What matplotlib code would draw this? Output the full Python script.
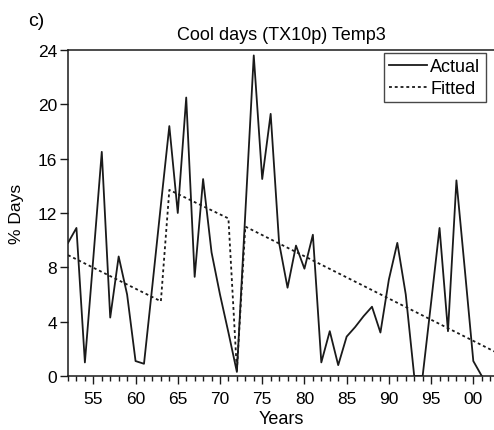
import matplotlib
matplotlib.use("Agg")
import matplotlib.pyplot as plt
import matplotlib.ticker as ticker

# ---------------------------------------------------------------------------
# Data
# ---------------------------------------------------------------------------

years = list(range(1952, 2002))
actual = [
    9.8, 10.9, 1.0, 8.7, 16.5, 4.3, 8.8, 6.0, 1.1, 0.9,      # 1952-61
    6.7, 12.6, 18.4, 12.0, 20.5, 7.3, 14.5, 9.1, 6.0, 3.2,   # 1962-71
    0.3, 12.0, 23.6, 14.5, 19.3, 9.8, 6.5, 9.6, 7.9, 10.4,   # 1972-81
    1.0, 3.3, 0.8, 2.9, 3.6, 4.4, 5.1, 3.2, 7.1, 9.8,        # 1982-91
    6.0, 0.0, 0.0, 5.4, 10.9, 3.3, 14.4, 7.8, 1.1, 0.0,      # 1992-2001
]

# fitted piecewise trend (segment end points)
fit_years = [1952, 1963, 1964, 1971, 1972, 1973, 2003]
fit_vals = [8.9, 5.5, 13.7, 11.6, 0.4, 11.0, 1.65]

y_ticks = [0, 4, 8, 12, 16, 20, 24]
x_major = [1955, 1960, 1965, 1970, 1975, 1980, 1985, 1990, 1995, 2000]

# ---------------------------------------------------------------------------
# Figure
# ---------------------------------------------------------------------------

plt.rcParams["font.family"] = ["Liberation Sans", "DejaVu Sans"]

W, H = 494, 431
fig = plt.figure(figsize=(W / 100, H / 100), dpi=100)
ax = fig.add_axes([68 / W, 1 - 377 / H, (W - 68) / W, (377 - 51) / H])

ax.plot(years, actual, color="#1a1a1a", lw=1.3, label="Actual")
ax.plot(fit_years, fit_vals, color="#1a1a1a", lw=1.3,
        linestyle=(0, (1.6, 1.6)), label="Fitted")

ax.set_xlim(1952, 2002.45)
ax.set_ylim(0, 24)
ax.spines["right"].set_visible(False)
for s in ("left", "bottom", "top"):
    ax.spines[s].set_linewidth(1.1)
    ax.spines[s].set_color("#1a1a1a")

ax.set_yticks(y_ticks)
ax.set_xticks(x_major)
ax.xaxis.set_minor_locator(ticker.MultipleLocator(1))
ax.xaxis.set_major_formatter(ticker.FuncFormatter(lambda v, _: f"{int(v) % 100:02d}"))
ax.tick_params(axis="both", which="major", labelsize=12.5, length=6,
               width=1.0, color="#1a1a1a", pad=2)
ax.tick_params(axis="x", which="minor", length=3.5, width=1.0, color="#1a1a1a")
ax.tick_params(axis="x", which="major", pad=5)

ax.set_xlabel("Years", fontsize=13, labelpad=3)
ax.set_ylabel("% Days", fontsize=12.5, labelpad=10)
ax.set_title("Cool days (TX10p) Temp3", fontsize=13, pad=8)
fig.text(28 / W, 1 - 26 / H, "c)", fontsize=14)

leg = ax.legend(loc="upper right", bbox_to_anchor=(486 / W, 1 - 54 / H),
                bbox_transform=fig.transFigure, borderaxespad=0,
                fontsize=13, frameon=True, fancybox=False,
                handlelength=2.1, handletextpad=0.2, borderpad=0.3,
                labelspacing=0.25)
leg.get_frame().set_edgecolor("#1a1a1a")
leg.get_frame().set_linewidth(1.0)

fig.savefig("out.png", dpi=100)
